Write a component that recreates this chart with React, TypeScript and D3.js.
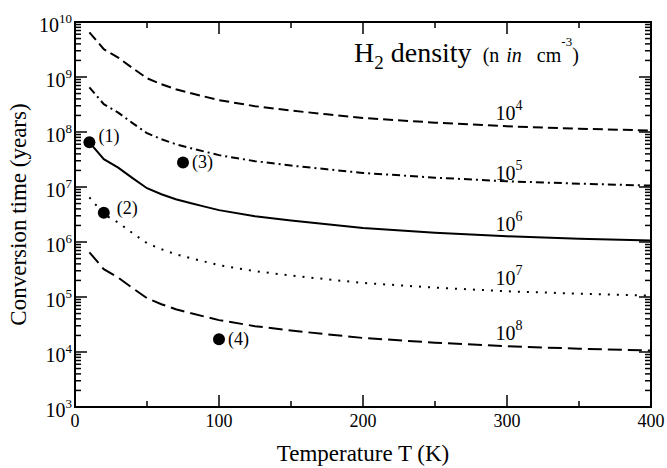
import React, { useEffect, useRef } from 'react';
import * as d3 from 'd3';

// temperature grid (K) shared by all the curves
const temperature = [10, 20, 30, 40, 50, 60, 70, 80, 90, 100, 125, 150, 175, 200, 250, 300, 350, 400];

// conversion time in years, one array per H2 density
const time_n1e4 = [6.5e9, 3.2e9, 2.25e9, 1.45e9, 9.5e8, 7.4e8, 6.0e8, 5.1e8, 4.4e8, 3.8e8, 2.95e8, 2.45e8, 2.1e8, 1.8e8, 1.48e8, 1.27e8, 1.15e8, 1.06e8];
const time_n1e5 = [6.5e8, 3.2e8, 2.25e8, 1.45e8, 9.5e7, 7.4e7, 6.0e7, 5.1e7, 4.4e7, 3.8e7, 2.95e7, 2.45e7, 2.1e7, 1.8e7, 1.48e7, 1.27e7, 1.15e7, 1.06e7];
const time_n1e6 = [6.5e7, 3.2e7, 2.25e7, 1.45e7, 9.5e6, 7.4e6, 6.0e6, 5.1e6, 4.4e6, 3.8e6, 2.95e6, 2.45e6, 2.1e6, 1.8e6, 1.48e6, 1.27e6, 1.15e6, 1.06e6];
const time_n1e7 = [6.5e6, 3.2e6, 2.25e6, 1.45e6, 9.5e5, 7.4e5, 6.0e5, 5.1e5, 4.4e5, 3.8e5, 2.95e5, 2.45e5, 2.1e5, 1.8e5, 1.48e5, 1.27e5, 1.15e5, 1.06e5];
const time_n1e8 = [6.5e5, 3.2e5, 2.25e5, 1.45e5, 9.5e4, 7.4e4, 6.0e4, 5.1e4, 4.4e4, 3.8e4, 2.95e4, 2.45e4, 2.1e4, 1.8e4, 1.48e4, 1.27e4, 1.15e4, 1.06e4];

const densityExponents = ['4', '5', '6', '7', '8'];
const densitySeries = [time_n1e4, time_n1e5, time_n1e6, time_n1e7, time_n1e8];

// marked points
const pointT = [10, 20, 75, 100];
const pointTime = [6.5e7, 3.4e6, 2.8e7, 1.7e4];
const pointLabels = ['(1)', '(2)', '(3)', '(4)'];

const xTicks = [0, 100, 200, 300, 400];
const xMinorTicks = [50, 150, 250, 350];
const yTickExponents = [3, 4, 5, 6, 7, 8, 9, 10];

// styling
const dashes = ['10,5', '8,4,2,4', null, '2,7', '14,6'];
const curveLabelDy = [-6, -1, -5, -6, -6];
const pointLabelOffset = [[9, 0], [13, 1], [9, 6], [9, 6]];

const FONT = '"Liberation Serif", "Times New Roman", serif';

export default function App() {
  const svgRef = useRef<SVGSVGElement>(null);

  useEffect(() => {
    const svg = d3.select(svgRef.current);
    svg.selectAll('*').remove();

    const left = 75, right = 651, top = 22, bottom = 407;
    const x = d3.scaleLinear().domain([0, 400]).range([left, right]);
    const y = d3.scaleLog().domain([1e3, 1e10]).range([bottom, top]);

    const g = svg.append('g').attr('font-family', FONT).attr('fill', '#000');

    // ticks (inward on all four sides)
    const ticks = g.append('g').attr('stroke', '#000').attr('stroke-width', 1.5);
    xTicks.forEach((t) => {
      ticks.append('line').attr('x1', x(t)).attr('x2', x(t)).attr('y1', bottom).attr('y2', bottom - 12);
      ticks.append('line').attr('x1', x(t)).attr('x2', x(t)).attr('y1', top).attr('y2', top + 12);
    });
    xMinorTicks.forEach((t) => {
      ticks.append('line').attr('x1', x(t)).attr('x2', x(t)).attr('y1', bottom).attr('y2', bottom - 6);
      ticks.append('line').attr('x1', x(t)).attr('x2', x(t)).attr('y1', top).attr('y2', top + 6);
    });
    yTickExponents.forEach((e) => {
      const v = Math.pow(10, e);
      ticks.append('line').attr('x1', left).attr('x2', left + 12).attr('y1', y(v)).attr('y2', y(v));
      ticks.append('line').attr('x1', right).attr('x2', right - 12).attr('y1', y(v)).attr('y2', y(v));
      if (e < 10) {
        for (let k = 2; k <= 9; k++) {
          const m = k * v;
          ticks.append('line').attr('x1', left).attr('x2', left + 6).attr('y1', y(m)).attr('y2', y(m));
          ticks.append('line').attr('x1', right).attr('x2', right - 6).attr('y1', y(m)).attr('y2', y(m));
        }
      }
    });

    // frame
    g.append('rect')
      .attr('x', left).attr('y', top)
      .attr('width', right - left).attr('height', bottom - top)
      .attr('fill', 'none').attr('stroke', '#000').attr('stroke-width', 2);

    // tick labels
    xTicks.forEach((t) => {
      g.append('text').attr('x', x(t)).attr('y', bottom + 20)
        .attr('text-anchor', 'middle').attr('font-size', 18).text(t);
    });
    yTickExponents.forEach((e) => {
      const txt = g.append('text').attr('x', left - 3).attr('y', y(Math.pow(10, e)) + 10)
        .attr('text-anchor', 'end').attr('font-size', 20);
      txt.append('tspan').text('10');
      txt.append('tspan').attr('dy', -9).attr('font-size', 13).text(e);
    });

    // axis titles
    g.append('text').attr('x', (left + right) / 2).attr('y', 461)
      .attr('text-anchor', 'middle').attr('font-size', 23).text('Temperature T (K)');
    g.append('text').attr('transform', `translate(26,${(top + bottom) / 2}) rotate(-90)`)
      .attr('text-anchor', 'middle').attr('font-size', 23).text('Conversion time (years)');

    // curves
    const line = d3.line<number>()
      .x((_, i) => x(temperature[i]))
      .y((d) => y(d));

    densitySeries.forEach((series, i) => {
      const path = g.append('path')
        .datum(series)
        .attr('fill', 'none')
        .attr('stroke', '#000')
        .attr('stroke-width', 2)
        .attr('d', line);
      if (dashes[i]) path.attr('stroke-dasharray', dashes[i]);

      const idx = temperature.indexOf(300);
      const lab = g.append('text')
        .attr('x', x(292))
        .attr('y', y(series[idx]) + curveLabelDy[i])
        .attr('font-size', 20);
      lab.append('tspan').text('10');
      lab.append('tspan').attr('dy', -10).attr('font-size', 14).text(densityExponents[i]);
    });

    // marked points
    pointT.forEach((t, i) => {
      g.append('circle').attr('cx', x(t)).attr('cy', y(pointTime[i])).attr('r', 6).attr('fill', '#000');
      g.append('text')
        .attr('x', x(t) + pointLabelOffset[i][0])
        .attr('y', y(pointTime[i]) + pointLabelOffset[i][1])
        .attr('font-size', 18)
        .text(pointLabels[i]);
    });

    // legend title
    const title = g.append('text').attr('x', 354).attr('y', 62);
    title.append('tspan').attr('font-size', 28).text('H');
    title.append('tspan').attr('font-size', 19).attr('dy', 7).text('2');
    title.append('tspan').attr('font-size', 28).attr('dy', -7).attr('dx', 7).text('density');
    title.append('tspan').attr('font-size', 20).attr('dx', 11).text('(n');
    title.append('tspan').attr('font-size', 20).attr('dx', 7).attr('font-style', 'italic').text('in');
    title.append('tspan').attr('font-size', 20).attr('dx', 15).text('cm');
    title.append('tspan').attr('font-size', 13).attr('dy', -16).text('-3');
    title.append('tspan').attr('font-size', 20).attr('dy', 16).text(')');
  }, []);

  return (
    <svg
      ref={svgRef}
      width={667}
      height={468}
      style={{ position: 'absolute', left: 0, top: 0, background: '#fff' }}
    />
  );
}
